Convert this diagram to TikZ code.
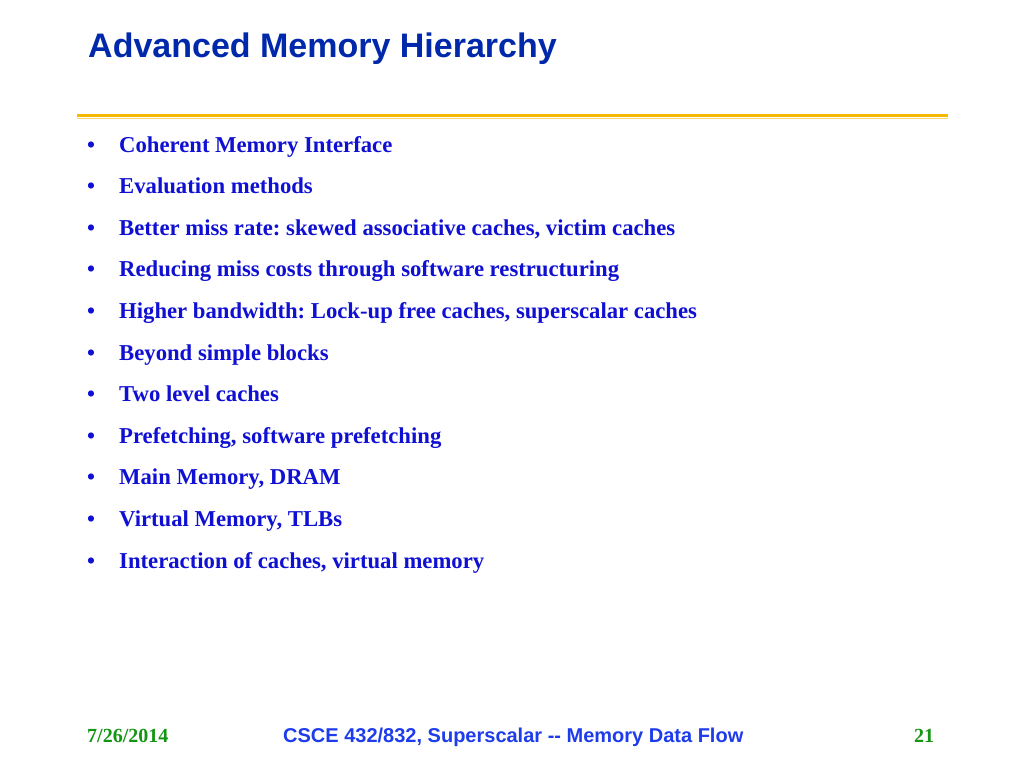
\documentclass[tikz,border=0pt]{standalone}
\usepackage{fontspec}
\setmainfont{Liberation Serif}
\setsansfont{Liberation Sans}
\frenchspacing
\definecolor{titleblue}{RGB}{0,40,170}
\definecolor{itemblue}{RGB}{16,16,210}
\definecolor{footblue}{RGB}{30,60,235}
\definecolor{footgreen}{RGB}{20,150,20}
\definecolor{gold}{RGB}{245,185,0}
\definecolor{goldlight}{RGB}{250,215,110}
\tikzset{
  titletext/.style={anchor=base west, inner sep=0pt, text=titleblue, font=\sffamily\bfseries\fontsize{34}{40}\selectfont},
  itemtext/.style={anchor=base west, inner sep=0pt, text=itemblue, font=\rmfamily\bfseries\fontsize{22.7}{27}\selectfont},
  bullettext/.style={anchor=base west, inner sep=0pt, text=itemblue, font=\rmfamily\bfseries\fontsize{22.7}{27}\selectfont},
  foottext/.style={anchor=base west, inner sep=0pt},
}
\begin{document}
\begin{tikzpicture}[x=1pt,y=-1pt]
\useasboundingbox (0,0) rectangle (1024,768);
\fill[white] (0,0) rectangle (1024,768);
\node[titletext] (title) at (88,57.7) {Advanced Memory Hierarchy};
\draw[gold, line width=3pt] (77,115.5) -- (948,115.5);
\draw[goldlight, line width=1pt] (77,118) -- (948,118);
\foreach [count=\i] \t in {
  Coherent Memory Interface,
  Evaluation methods,
  {Better miss rate: skewed associative caches, victim caches},
  Reducing miss costs through software restructuring,
  {Higher bandwidth: Lock-up free caches, superscalar caches},
  Beyond simple blocks,
  Two level caches,
  {Prefetching, software prefetching},
  {Main Memory, DRAM},
  {Virtual Memory, TLBs},
  {Interaction of caches, virtual memory}} {
  \node[bullettext] (b\i) at (87,{152+41.6*(\i-1)}) {•};
  \node[itemtext] (t\i) at (119,{152+41.6*(\i-1)}) {\t};
}
\node[foottext, text=footgreen, font=\rmfamily\bfseries\fontsize{20}{24}\selectfont] (date) at (87,742) {7/26/2014};
\node[foottext, text=footblue, font=\sffamily\bfseries\fontsize{20}{24}\selectfont] (course) at (283,742) {CSCE 432/832, Superscalar -{}- Memory Data Flow};
\node[foottext, text=footgreen, font=\rmfamily\bfseries\fontsize{20}{24}\selectfont] (page) at (914,742) {21};
\end{tikzpicture}
\end{document}
